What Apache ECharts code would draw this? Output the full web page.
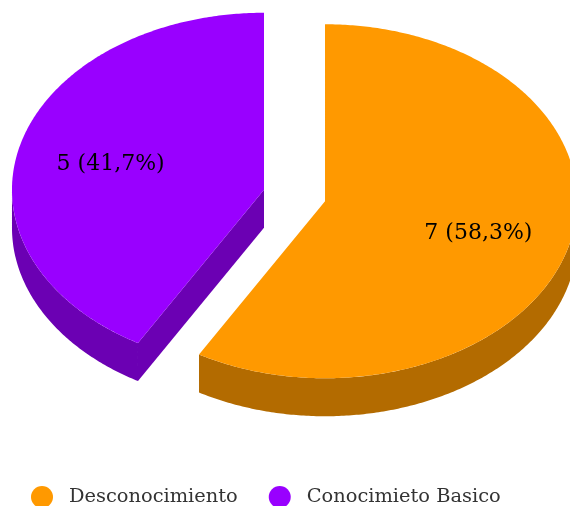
<!DOCTYPE html>
<html><head><meta charset="utf-8">
<style>html,body{margin:0;padding:0;background:#fff}#c{width:570px;height:506px}</style>
<script src="https://cdn.jsdelivr.net/npm/echarts@6/dist/echarts.min.js"></script>
</head><body><div id="c"></div>
<script>
const categories = ['Desconocimiento', 'Conocimieto Basico'];
const values = [7, 5];
const topColors = ['#FF9900', '#9900FF'];
const sideColors = ['#B36B00', '#6B00B3'];

const FONT = '"DejaVu Serif", serif';
const cx = 294.5, cy = 195.5, rx = 252, ry = 177, depth = 38, explode = 31.6, labelFrac = 0.63, labelDy = 3;
const total = values.reduce((a, b) => a + b, 0);
const TAU = Math.PI * 2;

function sliceAngles(idx) {
  let before = 0;
  for (let i = 0; i < idx; i++) before += values[i];
  return [before / total * TAU, (before + values[idx]) / total * TAU];
}
function arcPts(c, a0, a1, dz) {
  const n = Math.max(2, Math.ceil((a1 - a0) / 0.01)), pts = [];
  for (let i = 0; i <= n; i++) {
    const a = a0 + (a1 - a0) * i / n;
    pts.push([c[0] + rx * Math.sin(a), c[1] - ry * Math.cos(a) + dz]);
  }
  return pts;
}
function renderSlice(idx) {
  return function () {
    const [a0, a1] = sliceAngles(idx);
    const mid = (a0 + a1) / 2;
    const c = [cx + explode * Math.sin(mid), cy - explode * (ry / rx) * Math.cos(mid)];
    const kids = [];
    const side = { fill: sideColors[idx] };
    const wall = pts => kids.push({ type: 'polygon', shape: { points: pts }, style: side });
    const p0 = arcPts(c, a0, a0, 0)[0], p1 = arcPts(c, a1, a1, 0)[0];
    // radial walls, shown when they face the viewer
    if (Math.sin(a0) < -1e-6)
      wall([c, p0, [p0[0], p0[1] + depth], [c[0], c[1] + depth]]);
    if (Math.sin(a1) > 1e-6)
      wall([c, p1, [p1[0], p1[1] + depth], [c[0], c[1] + depth]]);
    // outer wall: front half of the rim
    const s = Math.max(a0, Math.PI / 2), e = Math.min(a1, Math.PI * 1.5);
    if (e > s) {
      wall(arcPts(c, s, e, 0).concat(arcPts(c, s, e, depth).reverse()));
    }
    // top face
    kids.push({ type: 'polygon', shape: { points: [c].concat(arcPts(c, a0, a1, 0)) }, style: { fill: topColors[idx] } });
    // label
    const pct = (values[idx] / total * 100).toFixed(1).replace('.', ',');
    kids.push({
      type: 'text',
      style: {
        x: c[0] + rx * labelFrac * Math.sin(mid),
        y: c[1] - ry * labelFrac * Math.cos(mid) + labelDy,
        text: values[idx] + ' (' + pct + '%)',
        fill: '#000', font: '22px ' + FONT, align: 'center', verticalAlign: 'middle'
      }
    });
    return { type: 'group', children: kids };
  };
}
const chart = echarts.init(document.getElementById('c'), null, { renderer: 'canvas' });
chart.setOption({
  animation: false,
  backgroundColor: '#fff',
  legend: {
    left: 26, top: 481, icon: 'circle', itemWidth: 22, itemHeight: 22, itemGap: 31,
    selectedMode: false,
    textStyle: { fontFamily: FONT, fontSize: 19.4, color: '#333', padding: [0, 0, 0, 11] },
    data: categories
  },
  series: categories.map((name, i) => ({
    type: 'custom', name, coordinateSystem: 'none', silent: true,
    itemStyle: { color: topColors[i] },
    data: [values[i]],
    renderItem: renderSlice(i)
  }))
});
</script></body></html>
